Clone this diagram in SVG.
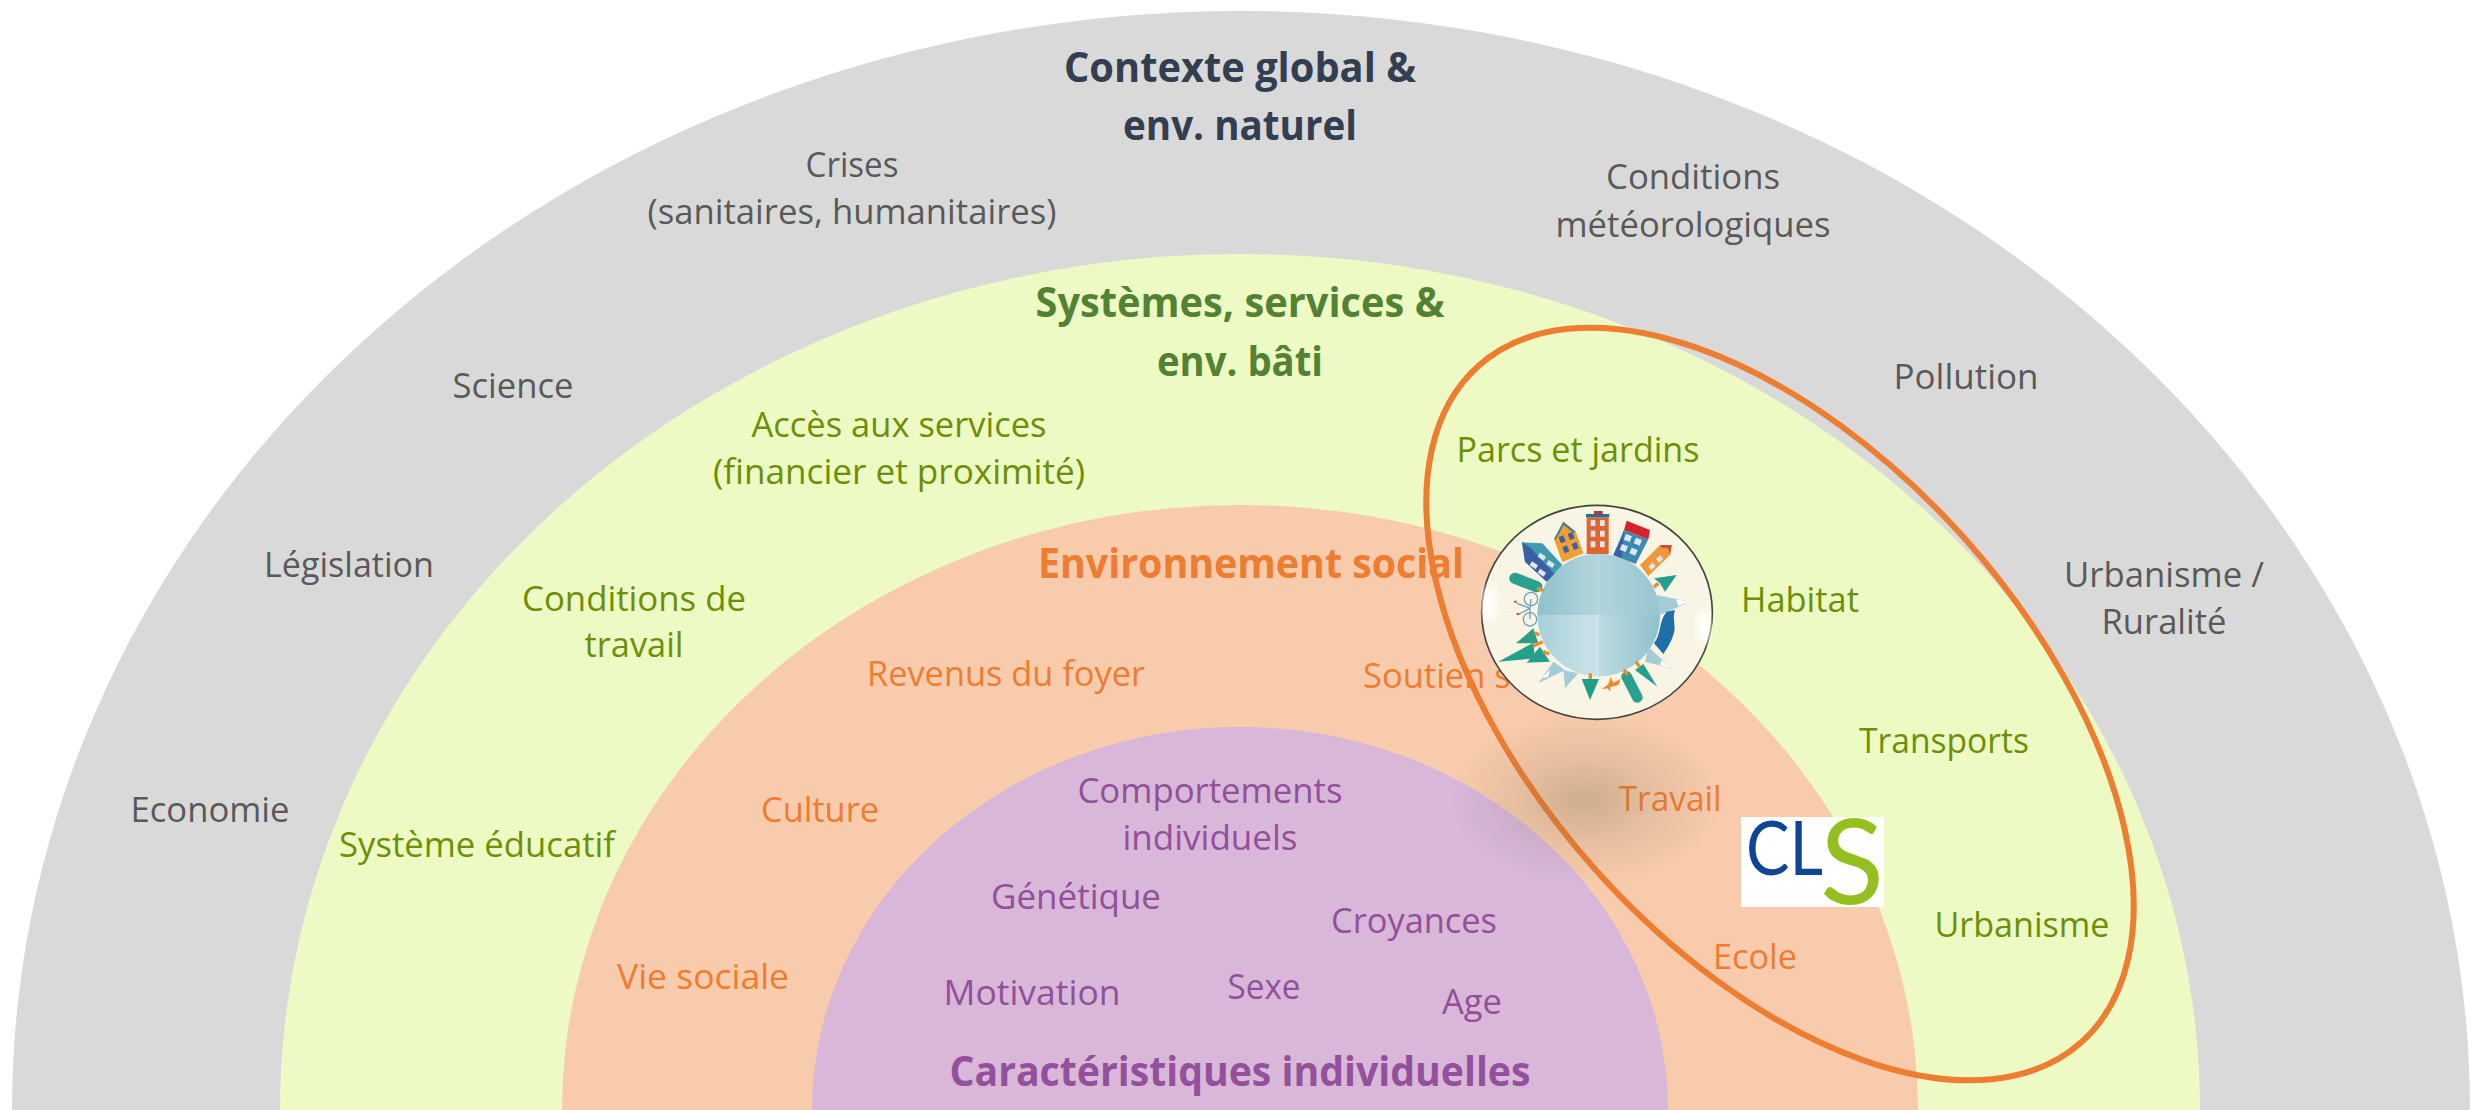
<svg xmlns="http://www.w3.org/2000/svg" width="2474" height="1110" viewBox="0 0 2474 1110">
<style>
text{font-family:"Open Sans","Noto Sans","Liberation Sans",sans-serif;font-size:34.5px;text-anchor:middle}
.b{font-weight:700;font-size:41px}
.g{fill:#595959}.gb{fill:#333f50}
.v{fill:#6d8f06}.vb{fill:#548235}
.o{fill:#ed7d31}
.p{fill:#92509a}.pb{fill:#93509b}
.tk{stroke:#ee8a2c;stroke-width:10;fill:none}
.win{fill:#dfe6ee}
</style>
<defs>
<radialGradient id="shadow"><stop offset="0" stop-color="#7a6a50" stop-opacity=".32"/><stop offset=".5" stop-color="#7a6a50" stop-opacity=".13"/><stop offset="1" stop-color="#7a6a50" stop-opacity="0"/></radialGradient>
<linearGradient id="q1" x1="0" x2="1" y1="0" y2="0"><stop offset="0" stop-color="#8fc1cc"/><stop offset="1" stop-color="#b4d6dd"/></linearGradient>
<linearGradient id="q2" x1="0" x2="1" y1="0" y2="0"><stop offset="0" stop-color="#b0d4dc"/><stop offset="1" stop-color="#98c6d0"/></linearGradient>
<linearGradient id="q3" x1="0" x2="1" y1="0" y2="0"><stop offset="0" stop-color="#a8d0d9"/><stop offset="1" stop-color="#cde4e9"/></linearGradient>
<linearGradient id="q4" x1="0" x2="1" y1="0" y2="0"><stop offset="0" stop-color="#bcdce2"/><stop offset="1" stop-color="#8fc0cc"/></linearGradient>
<filter id="soft"><feGaussianBlur stdDeviation="12"/></filter>
</defs>
<g id="ring-contexte"><ellipse cx="1241" cy="1110" rx="1229" ry="1099" fill="#d9d9d9"/></g>
<g id="ring-systemes"><ellipse cx="1240" cy="1110" rx="960" ry="856" fill="#edfac3"/></g>
<g id="ring-social"><ellipse cx="1240" cy="1110" rx="678" ry="605" fill="#f7cbac"/></g>
<g id="ring-individuel"><ellipse cx="1240" cy="1110" rx="428" ry="383" fill="#d8b7d9"/></g>
<g id="labels-contexte">
<text class="b gb" x="1240" y="82" textLength="352" lengthAdjust="spacingAndGlyphs">Contexte global &amp;</text>
<text class="b gb" x="1240" y="140" textLength="234" lengthAdjust="spacingAndGlyphs">env. naturel</text>
<text class="g" x="852" y="177" textLength="93" lengthAdjust="spacingAndGlyphs">Crises</text>
<text class="g" x="852" y="224" textLength="409" lengthAdjust="spacingAndGlyphs">(sanitaires, humanitaires)</text>
<text class="g" x="1693" y="189" textLength="174" lengthAdjust="spacingAndGlyphs">Conditions</text>
<text class="g" x="1693" y="237" textLength="275" lengthAdjust="spacingAndGlyphs">météorologiques</text>
<text class="g" x="513" y="398" textLength="121" lengthAdjust="spacingAndGlyphs">Science</text>
<text class="g" x="1966" y="389" textLength="145" lengthAdjust="spacingAndGlyphs">Pollution</text>
<text class="g" x="349" y="577" textLength="170" lengthAdjust="spacingAndGlyphs">Législation</text>
<text class="g" x="2164" y="587" textLength="200" lengthAdjust="spacingAndGlyphs">Urbanisme /</text>
<text class="g" x="2164" y="634" textLength="125" lengthAdjust="spacingAndGlyphs">Ruralité</text>
<text class="g" x="210" y="822" textLength="159" lengthAdjust="spacingAndGlyphs">Economie</text>
</g>
<g id="labels-systemes">
<text class="b vb" x="1240" y="317" textLength="409" lengthAdjust="spacingAndGlyphs">Systèmes, services &amp;</text>
<text class="b vb" x="1240" y="376" textLength="166" lengthAdjust="spacingAndGlyphs">env. bâti</text>
<text class="v" x="899" y="437" textLength="295" lengthAdjust="spacingAndGlyphs">Accès aux services</text>
<text class="v" x="899" y="484" textLength="372" lengthAdjust="spacingAndGlyphs">(financier et proximité)</text>
<text class="v" x="1578" y="462" textLength="243" lengthAdjust="spacingAndGlyphs">Parcs et jardins</text>
<text class="v" x="634" y="611" textLength="224" lengthAdjust="spacingAndGlyphs">Conditions de</text>
<text class="v" x="634" y="657" textLength="99" lengthAdjust="spacingAndGlyphs">travail</text>
<text class="v" x="1800" y="612" textLength="118" lengthAdjust="spacingAndGlyphs">Habitat</text>
<text class="v" x="477" y="857" textLength="276" lengthAdjust="spacingAndGlyphs">Système éducatif</text>
<text class="v" x="1944" y="753" textLength="170" lengthAdjust="spacingAndGlyphs">Transports</text>
<text class="v" x="2022" y="937" textLength="175" lengthAdjust="spacingAndGlyphs">Urbanisme</text>
</g>
<g id="labels-social">
<text class="b o" x="1251" y="578" textLength="426" lengthAdjust="spacingAndGlyphs">Environnement social</text>
<text class="o" x="1006" y="686" textLength="278" lengthAdjust="spacingAndGlyphs">Revenus du foyer</text>
<text class="o" x="1363" y="688" style="text-anchor:start">Soutien s</text>
<text class="o" x="820" y="822" textLength="118" lengthAdjust="spacingAndGlyphs">Culture</text>
<text class="o" x="1670" y="811" textLength="103" lengthAdjust="spacingAndGlyphs">Travail</text>
<text class="o" x="1755" y="969" textLength="84" lengthAdjust="spacingAndGlyphs">Ecole</text>
<text class="o" x="703" y="989" textLength="172" lengthAdjust="spacingAndGlyphs">Vie sociale</text>
</g>
<g id="labels-individuel">
<text class="p" x="1210" y="803" textLength="265" lengthAdjust="spacingAndGlyphs">Comportements</text>
<text class="p" x="1210" y="850" textLength="175" lengthAdjust="spacingAndGlyphs">individuels</text>
<text class="p" x="1076" y="909" textLength="170" lengthAdjust="spacingAndGlyphs">Génétique</text>
<text class="p" x="1414" y="933" textLength="166" lengthAdjust="spacingAndGlyphs">Croyances</text>
<text class="p" x="1032" y="1005" textLength="177" lengthAdjust="spacingAndGlyphs">Motivation</text>
<text class="p" x="1264" y="999" textLength="73" lengthAdjust="spacingAndGlyphs">Sexe</text>
<text class="p" x="1472" y="1014" textLength="60" lengthAdjust="spacingAndGlyphs">Age</text>
<text class="b pb" x="1240" y="1086" textLength="581" lengthAdjust="spacingAndGlyphs">Caractéristiques individuelles</text>
</g>
<g id="focus-ellipse"><ellipse cx="1780" cy="704" rx="453" ry="248" transform="rotate(48.3 1780 704)" fill="none" stroke="#ed7d31" stroke-width="6"/></g>
<g id="shadow-spot"><ellipse cx="1585" cy="800" rx="135" ry="85" fill="url(#shadow)"/></g>
<g id="planet" transform="translate(1400 480) scale(.33333)">
<ellipse cx="591" cy="397" rx="346" ry="321" fill="#f8f5e4" stroke="#444" stroke-width="5"/>
<ellipse cx="268" cy="370" rx="20" ry="50" fill="#fff" filter="url(#soft)"/>
<ellipse cx="912" cy="440" rx="20" ry="50" fill="#fff" filter="url(#soft)"/>
<path d="M596 405H412A184 184 0 0 1 596 221Z" fill="url(#q1)"/>
<path d="M596 405V221A184 184 0 0 1 780 405Z" fill="url(#q2)"/>
<path d="M596 405V589A184 184 0 0 1 412 405Z" fill="url(#q3)"/>
<path d="M596 405H780A184 184 0 0 1 596 589Z" fill="url(#q4)"/>
<path d="M365 187L427 190L487 255L440 305L375 245Z" fill="#3f9cb0"/><path d="M367 187L375 245L440 305L463 281L392 205Z" fill="#3a5fa8"/>
<path d="M420 218l18 12-7 12-18-12zM446 240l18 12-7 12-18-12zM396 244l18 12-7 12-18-12zM420 266l18 12-7 12-18-12z" class="win"/>
<path d="M462 178L490 125L527 155L550 220L487 247Z" fill="#f0a030"/><path d="M462 178L490 125L527 155L520 158L491 135L468 178Z" fill="#3a7f9c"/>
<path d="M476 172l14-6 7 18-14 6zM503 162l14-6 7 18-14 6zM487 202l14-6 7 18-14 6zM515 192l14-6 7 18-14 6z" fill="#3b5fa8"/>
<rect x="560" y="112" width="66" height="110" fill="#e0662f"/><rect x="558" y="102" width="70" height="10" fill="#2a6f8f"/><rect x="582" y="93" width="26" height="10" fill="#b03a4a"/>
<path d="M572 120h14v18h-14zM600 120h14v18h-14zM572 152h14v18h-14zM600 152h14v18h-14zM572 184h14v18h-14zM600 184h14v18h-14z" class="win"/>
<path d="M672 150L745 178L707 252L640 225Z" fill="#3b8bb0"/><path d="M672 150L660 185L640 225L665 235Z" fill="#3a5fa8"/><path d="M680 122L750 150L745 178L672 150Z" fill="#d6232a"/>
<path d="M678 162l18 7-7 17-18-7zM708 173l18 7-7 17-18-7zM666 192l18 7-7 17-18-7zM695 203l18 7-7 17-18-7z" class="win"/>
<path d="M720 255L780 195L815 195L810 225L745 288Z" fill="#f0983a"/><path d="M780 195L815 195L810 225L805 205L785 203Z" fill="#c9503a"/>
<path d="M745 260l12-12 10 10-12 12zM768 238l12-12 10 10-12 12z" class="win"/>
<path d="M762 295L830 285L795 335L780 310Z" fill="#26a08e"/><path class="tk" d="M775 310L762 322"/>
<path d="M770 345L870 365L780 405Z" fill="#a2cdd6"/><path d="M828 358L870 365L835 378Z" fill="#fff"/>
<path d="M800 395L825 390C815 420 832 440 818 470C812 490 800 505 790 522L762 490C785 460 775 425 800 395Z" fill="#1f6fa8"/>
<path d="M745 500L815 565L735 545Z" fill="#a2cdd6"/><path d="M785 540L815 565L780 555Z" fill="#fff"/>
<path d="M730 552L772 620L705 570Z" fill="#26a08e"/><path class="tk" d="M708 544L718 560"/>
<path d="M680 590L712 652" stroke="#2aa08f" stroke-width="32" stroke-linecap="round" fill="none"/><path class="tk" d="M672 568L682 585"/>
<path d="M605 628L625 612L632 590L640 608L665 595L668 578L655 615L630 622L632 635L622 625Z" fill="#ee8a2c"/>
<path d="M545 597L597 597L570 660Z" fill="#1f9c8a"/><path class="tk" d="M571 580V597"/>
<path d="M460 545L495 570L415 610Z" fill="#a2cdd6"/><path d="M490 570L535 580L495 625Z" fill="#a2cdd6"/>
<path d="M425 595L450 570L445 590Z" fill="#fff"/>
<path d="M295 545L400 488L405 535Z" fill="#23a08a"/><path d="M348 490L400 445L415 490Z" fill="#2f9e80"/><path d="M380 548L420 500L450 545Z" fill="#26a08e"/>
<path class="tk" d="M400 498L428 485M405 458L418 465M430 515L448 522"/>
<path d="M345 295L410 320" stroke="#2aa08f" stroke-width="34" stroke-linecap="round" fill="none"/><path class="tk" d="M412 325L430 332"/>
<g stroke="#6fa3bd" stroke-width="4" fill="none"><circle cx="393" cy="357" r="20"/><circle cx="390" cy="418" r="20"/><path d="M350 370L390 385L393 357M352 405L390 385L390 418"/></g>
<path d="M342 365h8M350 402h8" stroke="#d84a4a" stroke-width="6"/>
</g>
<g id="cls-logo">
<rect x="1741" y="817" width="143" height="90" fill="#fff"/>
<text x="1746" y="875" style="text-anchor:start;font-size:76px;fill:#0f4496;font-family:'Lato','Open Sans',sans-serif" textLength="77" lengthAdjust="spacingAndGlyphs">CL</text>
<text x="1820" y="904" style="text-anchor:start;font-size:118px;fill:#93c01f;font-family:'Lato','Open Sans',sans-serif" textLength="64" lengthAdjust="spacingAndGlyphs">S</text>
</g>
</svg>
